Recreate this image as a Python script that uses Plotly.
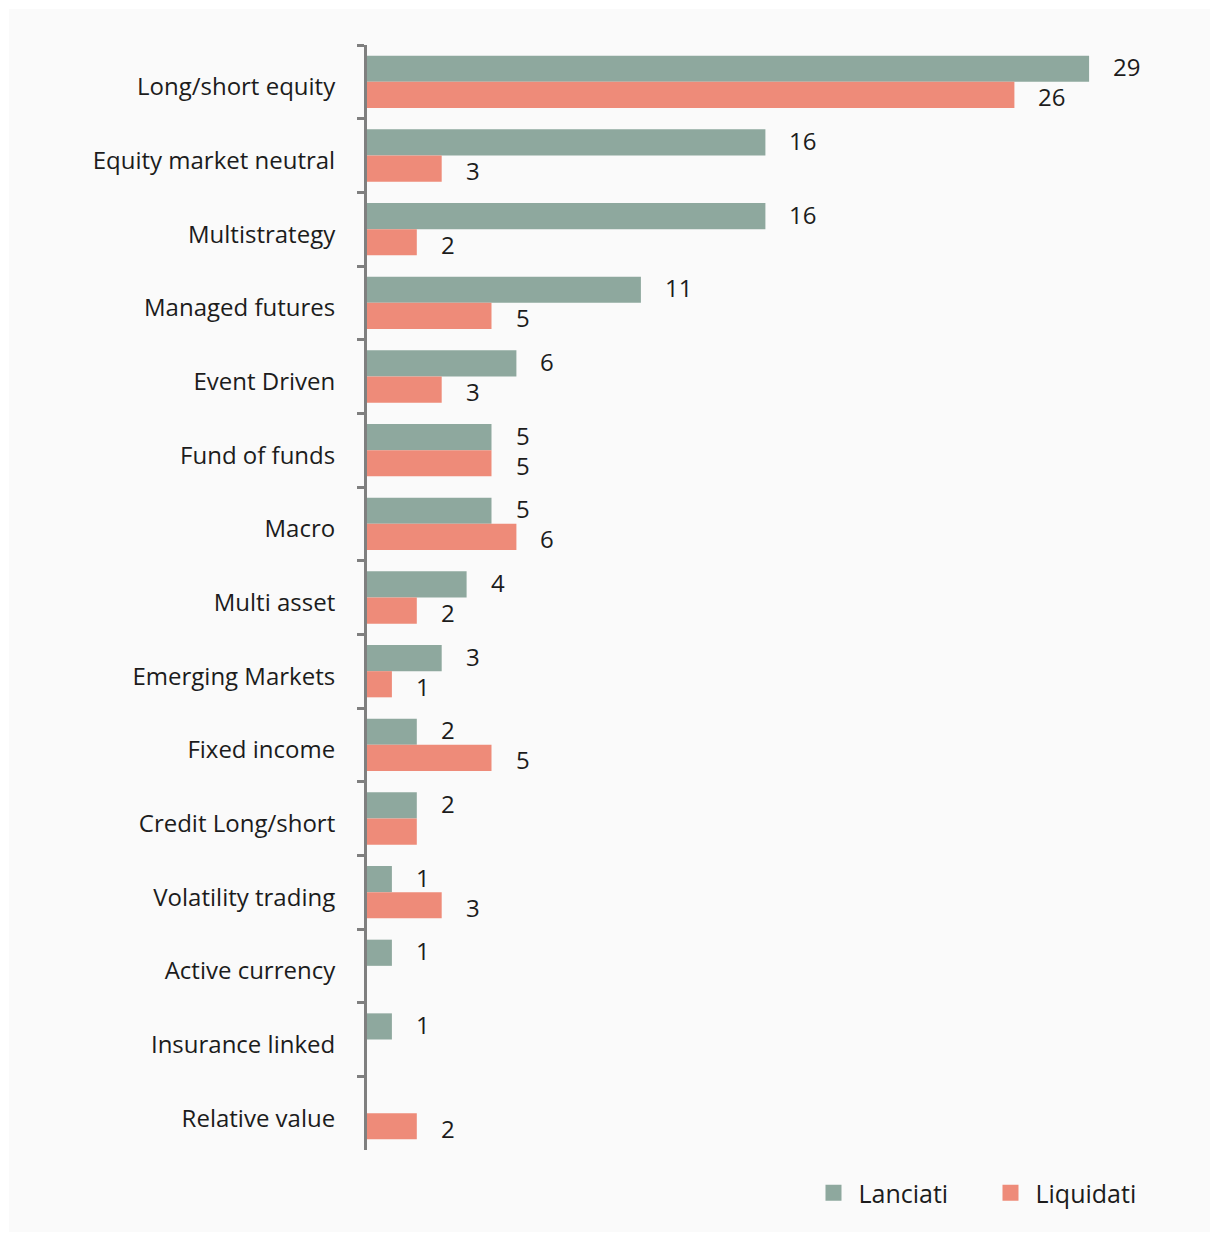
import plotly.graph_objects as go

categories = ["Long/short equity", "Equity market neutral", "Multistrategy", "Managed futures",
              "Event Driven", "Fund of funds", "Macro", "Multi asset", "Emerging Markets",
              "Fixed income", "Credit Long/short", "Volatility trading", "Active currency",
              "Insurance linked", "Relative value"]
lanciati = [29, 16, 16, 11, 6, 5, 5, 4, 3, 2, 2, 1, 1, 1, 0]
liquidati = [26, 3, 2, 5, 3, 5, 6, 2, 1, 5, 2, 3, 0, 0, 2]
# value labels shown (Credit Long/short shows a single shared label)
lanciati_labels = ["29", "16", "16", "11", "6", "5", "5", "4", "3", "2", "2", "1", "1", "1", ""]
liquidati_labels = ["26", "3", "2", "5", "3", "5", "6", "2", "1", "5", "", "3", "", "", "2"]
series_names = ["Lanciati", "Liquidati"]

GREEN = "#8EA89E"
SALMON = "#EE8B79"
FONT = "Open Sans"
TXT = "#1c1c1c"

W, H = 1213, 1236
ML, MR, MT, MB = 367, 13, 45, 86
plot_w = W - ML - MR
plot_h = H - MT - MB
px_per_unit = 24.9
xmax = plot_w / px_per_unit
cat_px = plot_h / len(categories)
bargap = 0.29
bar_px = cat_px * (1 - bargap) / 2

fig = go.Figure()
fig.add_trace(go.Bar(y=categories, x=lanciati, name=series_names[0], orientation="h",
                     marker=dict(color=GREEN, line=dict(width=0)), showlegend=False))
fig.add_trace(go.Bar(y=categories, x=liquidati, name=series_names[1], orientation="h",
                     marker=dict(color=SALMON, line=dict(width=0)), showlegend=False))
# legend entries with larger square swatches
for nm, col in zip(series_names, [GREEN, SALMON]):
    fig.add_trace(go.Scatter(x=[None], y=[None], mode="markers", name=nm,
                             marker=dict(symbol="square", size=20, color=col),
                             showlegend=True))

annotations = []
for cat, v, t in zip(categories, lanciati, lanciati_labels):
    if t:
        annotations.append(dict(x=v, y=cat, text=t, xref="x", yref="y", showarrow=False,
                                xanchor="left", yanchor="middle", xshift=22,
                                yshift=bar_px / 2 + 2,
                                font=dict(family=FONT, size=24, color=TXT)))
for cat, v, t in zip(categories, liquidati, liquidati_labels):
    if t:
        annotations.append(dict(x=v, y=cat, text=t, xref="x", yref="y", showarrow=False,
                                xanchor="left", yanchor="middle", xshift=22,
                                yshift=-bar_px / 2 - 2,
                                font=dict(family=FONT, size=24, color=TXT)))

# light background panel
x0 = (9 - ML) / plot_w
x1 = (1210 - ML) / plot_w
y1 = (H - MB - 9) / plot_h
y0 = (H - MB - 1232) / plot_h
fig.add_shape(type="rect", xref="paper", yref="paper", x0=x0, x1=x1, y0=y0, y1=y1,
              fillcolor="#FAFAFA", line=dict(width=0), layer="below")

fig.update_layout(
    width=W, height=H,
    margin=dict(l=ML, r=MR, t=MT, b=MB),
    paper_bgcolor="white",
    plot_bgcolor="rgba(0,0,0,0)",
    barmode="group",
    bargap=bargap,
    bargroupgap=0,
    font=dict(family=FONT, size=24, color=TXT),
    annotations=annotations,
    legend=dict(orientation="h", x=0.53, xanchor="left", y=-0.039, yanchor="middle",
                font=dict(family=FONT, size=25, color=TXT), bgcolor="rgba(0,0,0,0)",
                traceorder="normal", itemwidth=40, entrywidth=122, itemsizing="trace"),
    xaxis=dict(range=[0, xmax], visible=False, showgrid=False, zeroline=False),
    yaxis=dict(autorange="reversed", showgrid=False, zeroline=False,
               showline=True, linecolor="#7F7F7F", linewidth=3,
               ticks="outside", ticklen=7, tickwidth=3, tickcolor="#7F7F7F",
               tickson="boundaries", ticklabelstandoff=24, ticklabelshift=-5,
               tickfont=dict(family=FONT, size=24, color=TXT)),
)

fig.write_html("out.html")
